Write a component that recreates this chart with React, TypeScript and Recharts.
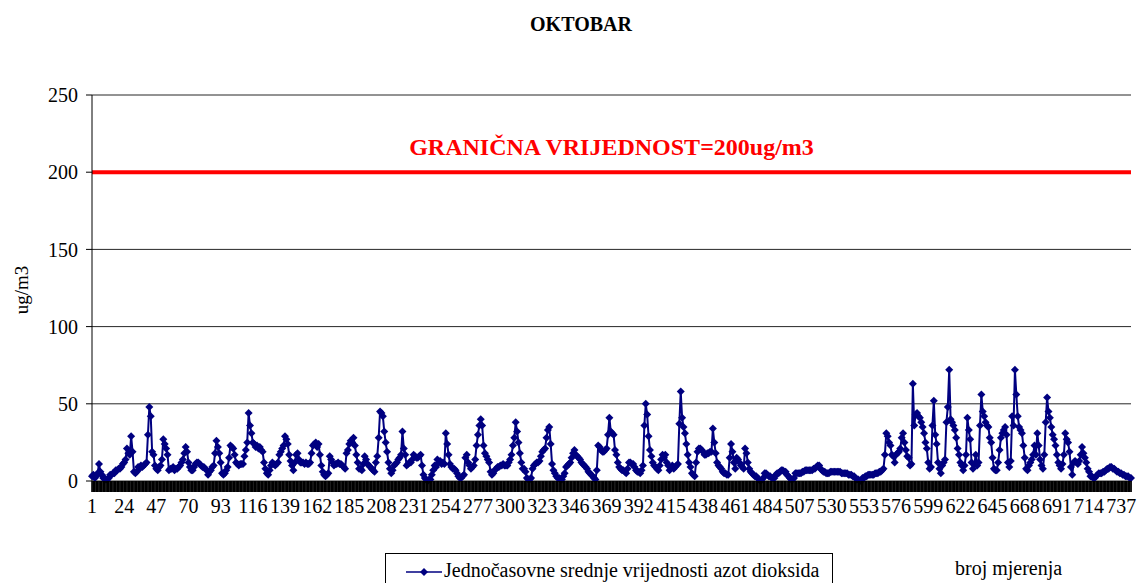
import { LineChart, Line, XAxis, YAxis, CartesianGrid, ReferenceLine } from "recharts";

const chartTitle = "OKTOBAR";
const seriesName = "Jednočasovne srednje vrijednosti azot dioksida";
const xAxisTitle = "broj mjerenja";
const yAxisTitle = "ug/m3";
const limitLabel = "GRANIČNA VRIJEDNOST=200ug/m3";
const limitValue = 200;
const yTicks = [0, 50, 100, 150, 200, 250];
const xTickLabels = [
  1, 24, 47, 70, 93, 116, 139, 162, 185, 208, 231, 254, 277, 300, 323, 346, 369,
  392, 415, 438, 461, 484, 507, 530, 553, 576, 599, 622, 645, 668, 691, 714, 737,
];

// hourly NO2 averages (ug/m3), one row per day of October
const no2ByDay: number[][] = [
  [3, 4, 2, 3, 5, 11, 6, 4, 2, 2, 1, 1, 2, 4, 4, 5, 5, 7, 7, 8, 8, 9, 11, 12],
  [14, 21, 18, 17, 29, 19, 6, 5, 6, 9, 8, 10, 9, 10, 11, 12, 30, 48, 42, 19, 17, 10, 8, 7],
  [9, 10, 14, 27, 24, 21, 17, 7, 8, 8, 9, 7, 8, 8, 9, 10, 12, 14, 18, 22, 19, 12, 9, 7],
  [7, 9, 11, 12, 12, 11, 10, 9, 9, 8, 7, 4, 6, 7, 9, 10, 18, 26, 22, 18, 12, 5, 4, 5],
  [7, 9, 15, 23, 22, 21, 17, 12, 11, 10, 11, 11, 11, 16, 20, 25, 44, 36, 31, 25, 24, 22, 23, 21],
  [22, 20, 19, 12, 8, 5, 4, 7, 10, 12, 11, 10, 11, 12, 17, 19, 21, 23, 29, 27, 24, 17, 13, 10],
  [7, 12, 17, 18, 14, 12, 12, 12, 11, 12, 11, 11, 12, 18, 23, 24, 25, 22, 24, 17, 10, 6, 4, 3],
  [4, 5, 16, 14, 12, 10, 11, 11, 12, 11, 11, 10, 9, 8, 18, 20, 24, 26, 25, 28, 23, 17, 12, 8],
  [8, 7, 11, 16, 14, 11, 10, 9, 8, 7, 6, 12, 16, 28, 45, 44, 42, 32, 25, 19, 12, 8, 5, 7],
  [10, 11, 12, 14, 15, 17, 32, 21, 17, 10, 11, 12, 12, 14, 17, 16, 15, 15, 16, 17, 10, 4, 2, 1],
  [0, 1, 1, 4, 7, 10, 9, 14, 12, 13, 11, 12, 11, 31, 24, 17, 11, 9, 8, 8, 7, 5, 3, 2],
  [2, 3, 4, 15, 17, 12, 10, 8, 9, 10, 14, 23, 30, 36, 40, 36, 23, 18, 16, 14, 12, 6, 4, 5],
  [7, 8, 9, 9, 10, 10, 11, 10, 10, 10, 12, 14, 17, 23, 28, 38, 32, 25, 18, 12, 8, 8, 6, 2],
  [1, 1, 2, 8, 10, 11, 12, 12, 13, 16, 19, 20, 21, 28, 33, 35, 24, 11, 7, 5, 3, 2, 2, 1],
  [1, 3, 5, 9, 10, 11, 12, 15, 18, 20, 17, 16, 15, 14, 12, 11, 10, 9, 8, 6, 5, 4, 3, 2],
  [1, 7, 23, 22, 20, 19, 19, 20, 21, 30, 41, 32, 31, 30, 20, 17, 12, 9, 8, 7, 7, 6, 5, 8],
  [12, 12, 11, 11, 9, 7, 6, 6, 5, 7, 10, 36, 50, 43, 29, 20, 16, 12, 10, 9, 8, 7, 10, 14],
  [17, 15, 17, 12, 10, 7, 9, 10, 8, 9, 10, 11, 37, 58, 41, 35, 31, 24, 17, 12, 9, 5, 4, 3],
  [12, 19, 21, 21, 20, 19, 17, 17, 18, 18, 19, 19, 34, 25, 18, 12, 10, 9, 8, 6, 5, 5, 4, 4],
  [15, 24, 19, 12, 8, 15, 14, 12, 10, 9, 8, 21, 18, 12, 8, 6, 5, 4, 3, 3, 2, 1, 0, 1],
  [2, 5, 5, 4, 3, 3, 2, 2, 2, 4, 5, 5, 6, 7, 7, 6, 6, 4, 3, 2, 1, 1, 2, 5],
  [5, 5, 5, 5, 6, 6, 7, 7, 7, 7, 7, 7, 8, 8, 9, 10, 10, 8, 7, 6, 6, 5, 5, 5],
  [6, 6, 6, 6, 6, 6, 6, 6, 5, 5, 5, 5, 5, 4, 4, 4, 3, 3, 2, 1, 1, 0, 0, 2],
  [2, 3, 3, 4, 4, 4, 4, 4, 5, 5, 5, 6, 6, 7, 8, 17, 31, 29, 25, 23, 17, 16, 12, 17],
  [18, 19, 21, 28, 31, 25, 20, 16, 15, 10, 11, 63, 36, 43, 44, 42, 41, 38, 35, 31, 25, 21, 12, 8],
  [9, 36, 52, 30, 24, 12, 8, 5, 10, 12, 14, 38, 48, 72, 40, 38, 36, 33, 28, 21, 17, 12, 10, 7],
  [10, 17, 41, 33, 27, 12, 8, 11, 17, 10, 12, 36, 56, 45, 42, 38, 36, 35, 28, 25, 15, 8, 7, 7],
  [12, 20, 28, 31, 33, 35, 30, 12, 9, 13, 42, 36, 72, 56, 42, 35, 33, 31, 23, 15, 8, 7, 10, 12],
  [14, 17, 23, 17, 31, 23, 14, 10, 8, 17, 38, 54, 45, 41, 35, 30, 27, 23, 17, 12, 10, 8, 11, 17],
  [31, 27, 25, 19, 9, 4, 12, 13, 12, 11, 13, 17, 22, 18, 15, 12, 8, 6, 3, 3, 2, 2, 3, 4],
  [5, 5, 5, 6, 6, 7, 8, 8, 9, 9, 8, 8, 7, 6, 6, 5, 5, 4, 4, 3, 3, 3, 2, 2],
];

const data = no2ByDay.flat().map((v, i) => ({ n: i + 1, no2: v }));

const serif = '"Liberation Serif", "Times New Roman", serif';
const navy = "#000080";

const Diamond = (props: any) => {
  const { cx, cy, index } = props;
  if (cx == null || cy == null) return null;
  const s = 4;
  return (
    <path
      key={`d-${index}`}
      d={`M${cx},${cy - s}L${cx + s},${cy}L${cx},${cy + s}L${cx - s},${cy}Z`}
      fill={navy}
    />
  );
};

// every category gets a tick mark (they merge into a black band), labels every 23
const XTick = (props: any) => {
  const { x, y, payload } = props;
  const label = xTickLabels.includes(payload.value);
  return (
    <g>
      <rect x={x - 0.8} y={y} width={1.7} height={11} fill="#000" />
      {label && (
        <text x={x} y={y + 32} textAnchor="middle" fontSize={20} fontFamily={serif} fill="#000">
          {payload.value}
        </text>
      )}
    </g>
  );
};

export default function App() {
  return (
    <div
      style={{
        position: "absolute",
        left: 0,
        top: 0,
        width: 1138,
        height: 583,
        overflow: "hidden",
        background: "#fff",
        fontFamily: serif,
      }}
    >
      <div
        style={{
          position: "absolute",
          left: 481,
          top: 13,
          width: 200,
          textAlign: "center",
          fontSize: 20,
          fontWeight: "bold",
        }}
      >
        {chartTitle}
      </div>

      <div
        style={{
          position: "absolute",
          left: 22,
          top: 290,
          fontSize: 19,
          whiteSpace: "nowrap",
          transform: "translate(-50%, -50%) rotate(-90deg)",
        }}
      >
        {yAxisTitle}
      </div>

      <LineChart
        width={1138}
        height={583}
        data={data}
        margin={{ top: 95, right: 7, bottom: 62, left: 0 }}
      >
        <CartesianGrid vertical={false} stroke="#000" strokeOpacity={0.85} />
        <XAxis
          dataKey="n"
          interval={0}
          tick={<XTick />}
          tickLine={false}
          axisLine={false}
          tickSize={0}
          tickMargin={0}
          height={40}
        />
        <YAxis
          domain={[0, 250]}
          ticks={yTicks}
          width={92}
          tick={{ fontSize: 20, fontFamily: serif, fill: "#000" }}
          tickSize={6}
          tickMargin={8}
          tickLine={{ stroke: "#000" }}
          axisLine={{ stroke: "#000" }}
        />
        <ReferenceLine
          y={limitValue}
          stroke="#ff0000"
          strokeWidth={4}
          label={{
            value: limitLabel,
            position: "top",
            offset: 17,
            fill: "#ff0000",
            fontSize: 24,
            fontWeight: "bold",
            fontFamily: serif,
          }}
        />
        <Line
          type="linear"
          dataKey="no2"
          name={seriesName}
          stroke={navy}
          strokeWidth={2}
          dot={<Diamond />}
          activeDot={false}
          isAnimationActive={false}
        />
      </LineChart>

      <div
        style={{
          position: "absolute",
          left: 385,
          top: 553,
          width: 448,
          height: 40,
          border: "1px solid #000",
          boxSizing: "border-box",
        }}
      >
        <svg width={40} height={20} style={{ position: "absolute", left: 18, top: 8 }}>
          <line x1={2} y1={10} x2={38} y2={10} stroke={navy} strokeWidth={1.5} />
          <path d="M20,6L24,10L20,14L16,10Z" fill={navy} />
        </svg>
        <div
          style={{
            position: "absolute",
            left: 58,
            top: 5,
            fontSize: 20,
            whiteSpace: "nowrap",
          }}
        >
          {seriesName}
        </div>
      </div>

      <div style={{ position: "absolute", left: 955, top: 557, fontSize: 20, whiteSpace: "nowrap" }}>
        {xAxisTitle}
      </div>
    </div>
  );
}
